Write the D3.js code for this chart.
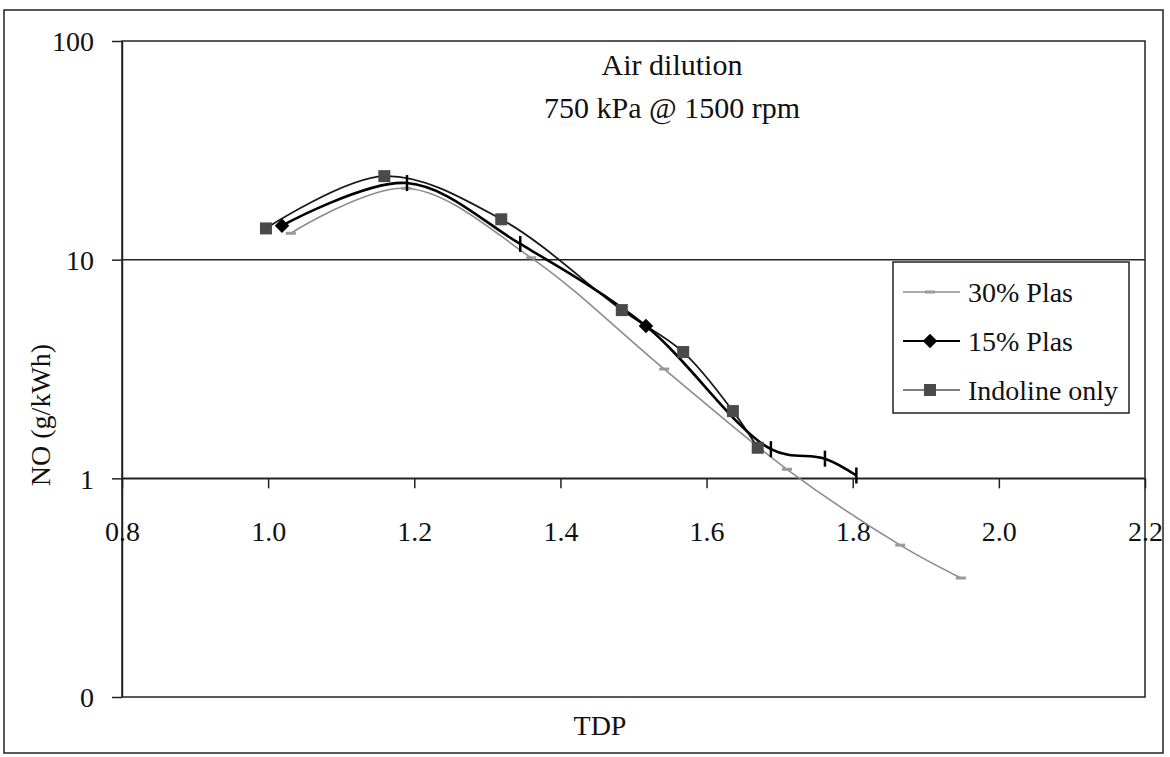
<!DOCTYPE html>
<html>
<head>
<meta charset="utf-8">
<script src="https://cdn.jsdelivr.net/npm/d3@7"></script>
<style>
  body { margin: 0; background: #fff; }
  svg text { font-family: "Liberation Serif", Tinos, "Times New Roman", Times, "DejaVu Serif", serif; fill: #111; }
</style>
</head>
<body>
<div id="chart"></div>
<script>
// series (TDP, NO g/kWh)
const plas30TDP = [1.031, 1.189, 1.360, 1.542, 1.710, 1.865, 1.948];
const plas30NO  = [13.2, 21.2, 10.2, 3.16, 1.10, 0.495, 0.35];

const plas15TDP = [1.019, 1.190, 1.345, 1.517, 1.688, 1.762, 1.805];
const plas15NO  = [14.3, 22.4, 11.8, 4.97, 1.36, 1.23, 1.03];

const indolTDP = [0.997, 1.159, 1.319, 1.484, 1.568, 1.636, 1.670];
const indolNO  = [13.9, 24.1, 15.3, 5.88, 3.78, 2.03, 1.38];

const xTicks = [0.8, 1.0, 1.2, 1.4, 1.6, 1.8, 2.0, 2.2];
const yTicks = [0.1, 1, 10, 100];
const yTickLabels = ["0", "1", "10", "100"];
const seriesNames = ["30% Plas", "15% Plas", "Indoline only"];
const titleLines = ["Air dilution", "750 kPa @ 1500 rpm"];

const width = 1170, height = 757;
const plot = {left: 122, right: 1145, top: 41, bottom: 697};
const serif = '"Liberation Serif", Tinos, "Times New Roman", Times, "DejaVu Serif", serif';

const svg = d3.select("#chart").append("svg")
  .attr("width", width)
  .attr("height", height)
  .attr("font-family", serif);

// outer frame
svg.append("rect")
  .attr("x", 4).attr("y", 10)
  .attr("width", 1159).attr("height", 743)
  .attr("fill", "none").attr("stroke", "#222").attr("stroke-width", 1.5);

const x = d3.scaleLinear().domain([0.8, 2.2]).range([plot.left, plot.right]);
const y = d3.scaleLog().domain([0.1, 100]).range([plot.bottom, plot.top]);

// plot box
svg.append("rect")
  .attr("x", plot.left).attr("y", plot.top)
  .attr("width", plot.right - plot.left).attr("height", plot.bottom - plot.top)
  .attr("fill", "none").attr("stroke", "#222").attr("stroke-width", 1.5);

// gridlines at the decades
svg.append("g").selectAll("line")
  .data([1, 10])
  .enter().append("line")
    .attr("x1", plot.left).attr("x2", plot.right)
    .attr("y1", d => y(d)).attr("y2", d => y(d))
    .attr("stroke", "#222").attr("stroke-width", 1.5);

// y axis
const yAxis = svg.append("g")
  .attr("transform", `translate(${plot.left},0)`)
  .call(d3.axisLeft(y)
    .tickValues(yTicks)
    .tickFormat((d, i) => yTickLabels[i])
    .tickSizeInner(10).tickSizeOuter(0).tickPadding(18));
yAxis.attr("font-family", serif);
yAxis.select(".domain").attr("stroke", "#222").attr("stroke-width", 1.5);
yAxis.selectAll(".tick line").attr("stroke", "#222").attr("stroke-width", 1.5);
yAxis.selectAll("text").attr("font-size", 28).attr("dy", "0.35em");

// x axis crossing at NO = 1
const xAxis = svg.append("g")
  .attr("transform", `translate(0,${y(1)})`)
  .call(d3.axisBottom(x)
    .tickValues(xTicks)
    .tickFormat(d3.format(".1f"))
    .tickSizeInner(10).tickSizeOuter(0).tickPadding(33));
xAxis.attr("font-family", serif);
xAxis.select(".domain").attr("stroke", "#222").attr("stroke-width", 1.5);
xAxis.selectAll(".tick line").attr("stroke", "#222").attr("stroke-width", 1.5);
xAxis.selectAll("text").attr("font-size", 28);

// titles
svg.append("g").selectAll("text")
  .data(titleLines)
  .enter().append("text")
    .attr("x", 672)
    .attr("y", (d, i) => 75 + i * 43)
    .attr("text-anchor", "middle")
    .attr("font-size", 30)
    .text(d => d);

svg.append("text")
  .attr("x", 600).attr("y", 735)
  .attr("text-anchor", "middle")
  .attr("font-size", 28)
  .text("TDP");

svg.append("text")
  .attr("transform", "translate(50,415) rotate(-90)")
  .attr("text-anchor", "middle")
  .attr("font-size", 28)
  .text("NO (g/kWh)");

const toPts = (xs, ys) => xs.map((v, i) => ({x: v, y: ys[i]}));
const plas30 = toPts(plas30TDP, plas30NO);
const plas15 = toPts(plas15TDP, plas15NO);
const indol = toPts(indolTDP, indolNO);

const line = d3.line()
  .x(d => x(d.x))
  .y(d => y(d.y))
  .curve(d3.curveCatmullRom.alpha(0.5));

const lines = svg.append("g");
lines.append("path").datum(plas30)
  .attr("d", line).attr("fill", "none")
  .attr("stroke", "#8c8c8c").attr("stroke-width", 1.6);
lines.append("path").datum(indol)
  .attr("d", line).attr("fill", "none")
  .attr("stroke", "#1a1a1a").attr("stroke-width", 1.8);
lines.append("path").datum(plas15)
  .attr("d", line).attr("fill", "none")
  .attr("stroke", "#000").attr("stroke-width", 2.6);

// markers
const diamond = d3.symbol().type(d3.symbolSquare).size(105);

svg.append("g").selectAll("rect")
  .data(plas30)
  .enter().append("rect")
    .attr("x", d => x(d.x) - 5).attr("y", d => y(d.y) - 1.5)
    .attr("width", 10).attr("height", 3)
    .attr("fill", "#9a9a9a");

svg.append("g").selectAll("rect")
  .data(indol)
  .enter().append("rect")
    .attr("x", d => x(d.x) - 6).attr("y", d => y(d.y) - 6)
    .attr("width", 12).attr("height", 12)
    .attr("fill", "#4a4a4a");

// the 15% series shows diamonds on two points and short bars on the rest
const diamondIdx = [0, 3];
const m15 = svg.append("g");
plas15.forEach(function(d, i) {
  if (diamondIdx.includes(i)) {
    m15.append("path")
      .attr("d", diamond)
      .attr("transform", `translate(${x(d.x)},${y(d.y)}) rotate(45)`)
      .attr("fill", "#000");
  } else {
    m15.append("line")
      .attr("x1", x(d.x)).attr("x2", x(d.x))
      .attr("y1", y(d.y) - 8).attr("y2", y(d.y) + 8)
      .attr("stroke", "#000").attr("stroke-width", 2.5);
  }
});

// legend
const legend = svg.append("g");
legend.append("rect")
  .attr("x", 893).attr("y", 262)
  .attr("width", 236).attr("height", 151)
  .attr("fill", "#fff").attr("stroke", "#222").attr("stroke-width", 1.5);

const rows = legend.selectAll("g.row")
  .data(seriesNames)
  .enter().append("g")
    .attr("class", "row")
    .attr("transform", (d, i) => `translate(0,${292 + i * 49})`);

rows.append("line")
  .attr("x1", 903).attr("x2", 960)
  .attr("stroke", (d, i) => ["#8c8c8c", "#000", "#555"][i])
  .attr("stroke-width", (d, i) => [1.4, 2.2, 1.4][i]);

rows.append("text")
  .attr("x", 968).attr("y", 10)
  .attr("font-size", 28)
  .text(d => d);

rows.filter((d, i) => i === 0).append("rect")
  .attr("x", 925).attr("y", -1.5).attr("width", 10).attr("height", 3).attr("fill", "#9a9a9a");
rows.filter((d, i) => i === 1).append("path")
  .attr("d", diamond).attr("transform", "translate(930,0) rotate(45)").attr("fill", "#000");
rows.filter((d, i) => i === 2).append("rect")
  .attr("x", 924).attr("y", -6).attr("width", 12).attr("height", 12).attr("fill", "#4a4a4a");
</script>
</body>
</html>
